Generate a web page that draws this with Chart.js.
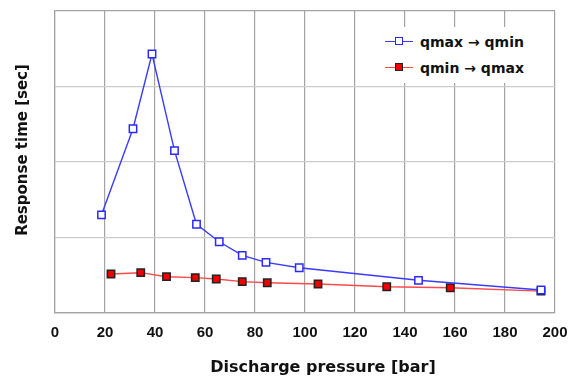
<!DOCTYPE html>
<html><head><meta charset="utf-8">
<script src="https://cdn.jsdelivr.net/npm/chart.js@4/dist/chart.umd.min.js"></script>
<style>
html,body{margin:0;padding:0;background:#fff;}
#wrap{position:relative;width:569px;height:378px;}
#legend{position:absolute;left:374px;top:27px;width:178px;height:56px;background:#fff;font:bold 14px "DejaVu Sans",sans-serif;color:#111;}
.row{position:absolute;left:0;height:20px;width:178px;}
.ln{position:absolute;left:11px;top:9px;width:28px;height:0;border-top:1.5px solid;}
.mk{position:absolute;left:21px;top:5px;width:6px;height:6px;border:1.5px solid;}
.tx{position:absolute;left:46px;top:0;line-height:20px;white-space:nowrap;}
</style></head>
<body><div id="wrap"><canvas id="c" width="569" height="378"></canvas>
<div id="legend">
<div class="row" style="top:5px"><div class="ln" style="border-color:#3b3bff"></div><div class="mk" style="border-color:#2a2aff;background:#fff"></div><div class="tx">qmax → qmin</div></div>
<div class="row" style="top:31px"><div class="ln" style="border-color:#ff4a4a"></div><div class="mk" style="border-color:#222;background:#ee0000"></div><div class="tx">qmin → qmax</div></div>
</div></div>
<script>
const seriesNames = ["qmax → qmin", "qmin → qmax"];
const xTicks = [0, 20, 40, 60, 80, 100, 120, 140, 160, 180, 200];
const xTitle = "Discharge pressure [bar]";
const yTitle = "Response time [sec]";
const blueX = [18.6, 31.2, 38.8, 47.8, 56.6, 65.7, 74.9, 84.4, 97.7, 145.4, 194.4];
const blueY = [1.30, 2.44, 3.43, 2.15, 1.175, 0.944, 0.764, 0.67, 0.60, 0.433, 0.305];
const redX = [22.4, 34.3, 44.6, 56.1, 64.5, 74.9, 84.9, 105.2, 132.7, 158.1, 194.4];
const redY = [0.517, 0.534, 0.481, 0.468, 0.45, 0.415, 0.40, 0.384, 0.348, 0.335, 0.29];

const pts = (xs, ys) => xs.map((x, i) => ({x: x, y: ys[i]}));

const titlePlugin = {
  id: 'axisTitles',
  afterDraw(chart) {
    const ctx = chart.ctx, a = chart.chartArea;
    ctx.save();
    ctx.fillStyle = '#111';
    ctx.textAlign = 'center';
    ctx.textBaseline = 'middle';
    ctx.font = 'bold 16px "DejaVu Sans"';
    ctx.fillText(xTitle, (a.left + a.right) / 2 + 18, 368);
    ctx.translate(23, (a.top + a.bottom) / 2 - 12);
    ctx.rotate(-Math.PI / 2);
    ctx.font = 'bold 15px "DejaVu Sans"';
    ctx.fillText(yTitle, 0, 0);
    ctx.restore();
  }
};

new Chart(document.getElementById('c'), {
  type: 'scatter',
  data: {
    datasets: [
      {label: seriesNames[0], data: pts(blueX, blueY), showLine: true, borderColor: '#3b3bff', borderWidth: 1.4,
       pointStyle: 'rect', pointRadius: 5.2, pointBorderWidth: 1.5, pointBorderColor: '#2a2aff', pointBackgroundColor: '#fff'},
      {label: seriesNames[1], data: pts(redX, redY), showLine: true, borderColor: '#ff4a4a', borderWidth: 1.4,
       pointStyle: 'rect', pointRadius: 5.2, pointBorderWidth: 1.5, pointBorderColor: '#222', pointBackgroundColor: '#ee0000'}
    ]
  },
  plugins: [titlePlugin],
  options: {
    responsive: false,
    animation: false,
    layout: {padding: {left: 0, right: 14, top: 11, bottom: 0}},
    plugins: {legend: {display: false}, tooltip: {enabled: false}},
    scales: {
      x: {
        type: 'linear', min: 0, max: 200,
        afterBuildTicks: s => { s.ticks = xTicks.map(v => ({value: v})); },
        afterFit: s => { s.height = 65; s.paddingLeft = 0; s.paddingRight = 0; },
        ticks: {font: {family: 'Liberation Sans', weight: 'bold', size: 15}, color: '#111', padding: 11, maxRotation: 0},
        grid: {color: '#a3a3a3', drawTicks: false, lineWidth: 1.2},
        border: {display: true, color: '#a3a3a3', width: 1.2},
        title: {display: false}
      },
      y: {
        min: 0, max: 4,
        afterFit: s => { s.width = 55; s.paddingTop = 0; s.paddingBottom = 0; },
        ticks: {display: false, stepSize: 1},
        grid: {color: ctx => (ctx.tick && (ctx.tick.value === 4 || ctx.tick.value === 0)) ? '#a3a3a3' : '#cccccc', drawTicks: false, lineWidth: 1.2},
        border: {display: true, color: '#a3a3a3', width: 1.2},
        title: {display: false}
      }
    }
  }
});
</script></body></html>
